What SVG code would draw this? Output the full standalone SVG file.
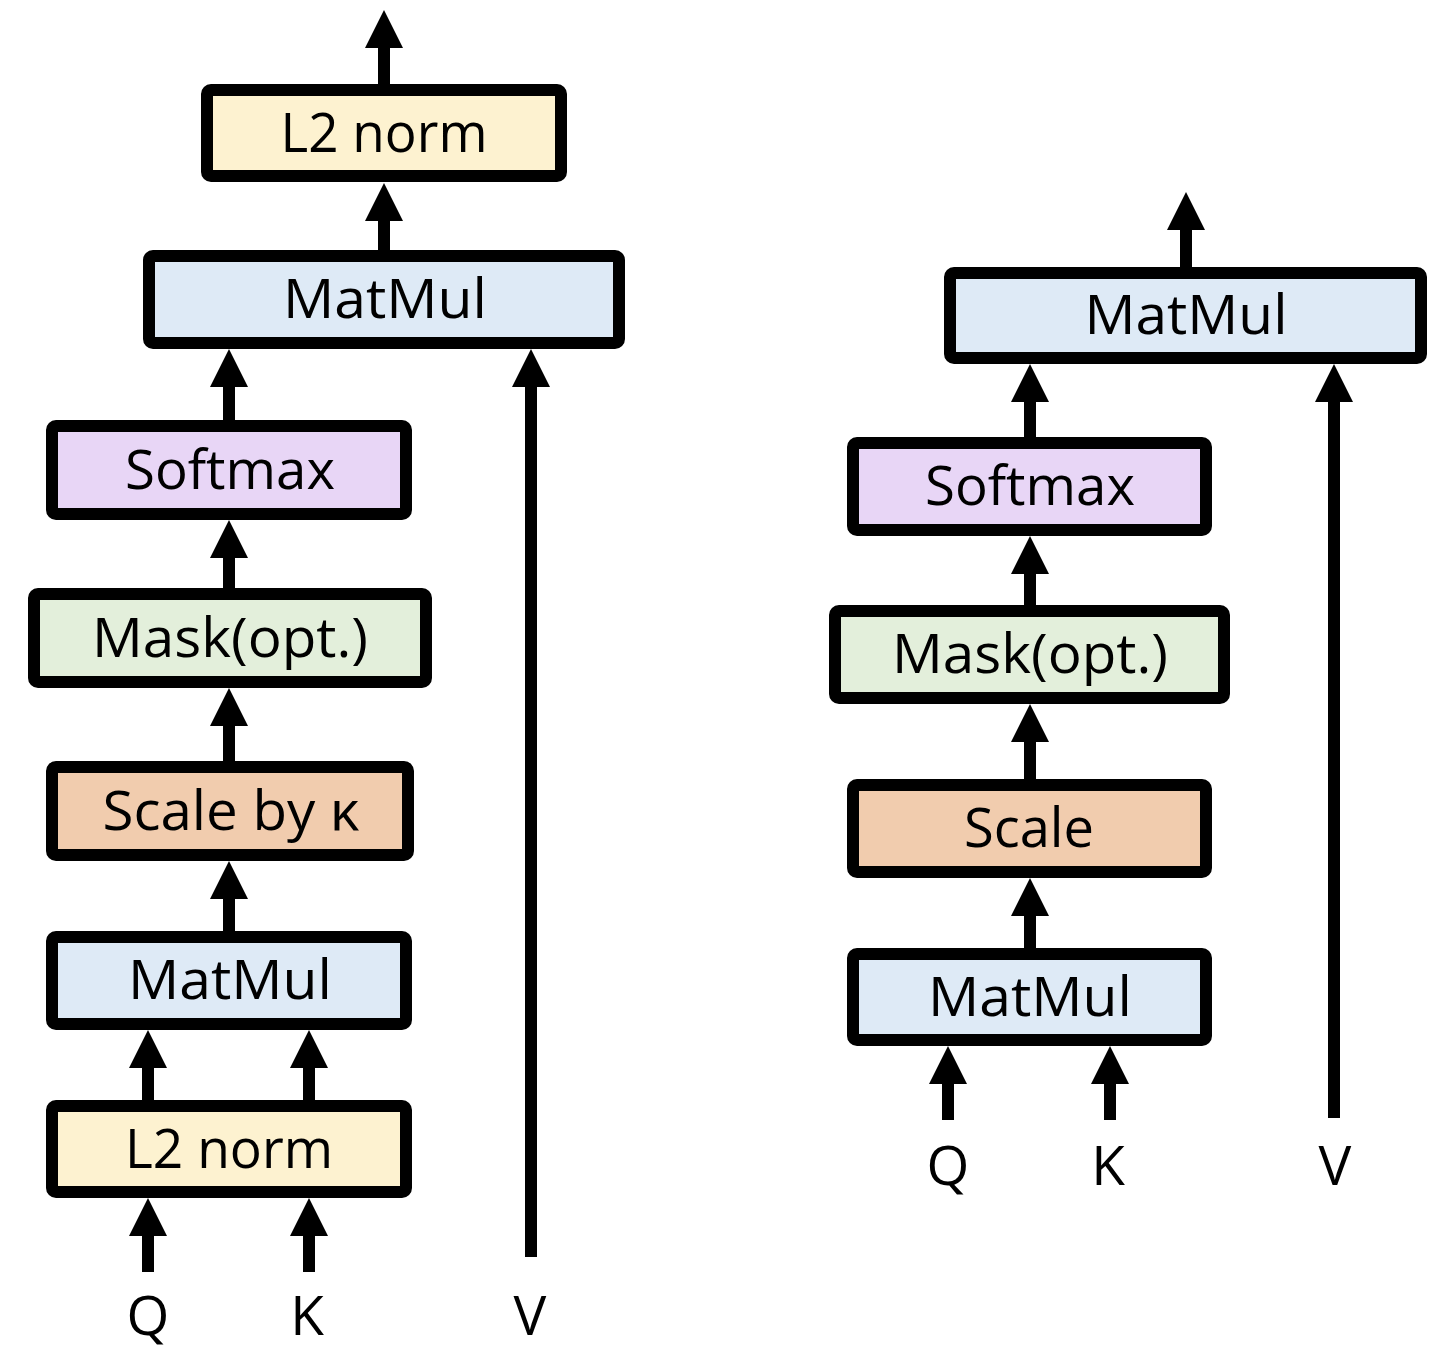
<svg xmlns="http://www.w3.org/2000/svg" width="1454" height="1370" viewBox="0 0 1454 1370">
<style>
.box{stroke:#000;stroke-width:12;stroke-linejoin:round}
.lbl{font-family:"Open Sans","Noto Sans","DejaVu Sans",sans-serif;font-size:55px;fill:#000;text-anchor:middle}
.c{stroke:#000;stroke-width:12;fill:none}
.yel{fill:#FDF2D0}.blu{fill:#DEEAF6}.pur{fill:#E8D6F6}.grn{fill:#E3EFDB}.org{fill:#F1CCAE}
</style>
<defs>
<marker id="ah" markerUnits="userSpaceOnUse" markerWidth="38" markerHeight="38" refX="0" refY="19" orient="auto" viewBox="0 0 38 38">
<path d="M0,0 L38,19 L0,38 z" fill="#000"/>
</marker>
</defs>
<rect width="1454" height="1370" fill="#fff"/>
<g id="connectors">
<line class="c" x1="384" y1="86" x2="384" y2="48" marker-end="url(#ah)"/>
<line class="c" x1="384" y1="252" x2="384" y2="221" marker-end="url(#ah)"/>
<line class="c" x1="229" y1="422" x2="229" y2="387" marker-end="url(#ah)"/>
<line class="c" x1="531" y1="1257" x2="531" y2="387" marker-end="url(#ah)"/>
<line class="c" x1="229" y1="590" x2="229" y2="558" marker-end="url(#ah)"/>
<line class="c" x1="229" y1="763" x2="229" y2="726" marker-end="url(#ah)"/>
<line class="c" x1="229" y1="933" x2="229" y2="899" marker-end="url(#ah)"/>
<line class="c" x1="148" y1="1102" x2="148" y2="1068" marker-end="url(#ah)"/>
<line class="c" x1="309" y1="1102" x2="309" y2="1068" marker-end="url(#ah)"/>
<line class="c" x1="148" y1="1272" x2="148" y2="1236" marker-end="url(#ah)"/>
<line class="c" x1="309" y1="1272" x2="309" y2="1236" marker-end="url(#ah)"/>
<line class="c" x1="1186" y1="269" x2="1186" y2="230" marker-end="url(#ah)"/>
<line class="c" x1="1334" y1="1118" x2="1334" y2="402" marker-end="url(#ah)"/>
<line class="c" x1="1030" y1="439" x2="1030" y2="402" marker-end="url(#ah)"/>
<line class="c" x1="1030" y1="607" x2="1030" y2="574" marker-end="url(#ah)"/>
<line class="c" x1="1030" y1="781" x2="1030" y2="742" marker-end="url(#ah)"/>
<line class="c" x1="1030" y1="950" x2="1030" y2="916" marker-end="url(#ah)"/>
<line class="c" x1="948" y1="1120" x2="948" y2="1084" marker-end="url(#ah)"/>
<line class="c" x1="1110" y1="1120" x2="1110" y2="1084" marker-end="url(#ah)"/>
</g>
<g id="l-l2norm-top"><rect class="box yel" x="207" y="90" width="354" height="86" rx="4"/><text class="lbl" x="384" y="152" textLength="207" lengthAdjust="spacingAndGlyphs">L2 norm</text></g>
<g id="l-matmul-top"><rect class="box blu" x="149" y="256" width="470" height="87" rx="4"/><text class="lbl" x="385" y="318" textLength="204" lengthAdjust="spacingAndGlyphs">MatMul</text></g>
<g id="l-softmax"><rect class="box pur" x="52" y="426" width="354" height="88" rx="4"/><text class="lbl" x="230" y="489" textLength="210" lengthAdjust="spacingAndGlyphs">Softmax</text></g>
<g id="l-mask"><rect class="box grn" x="34" y="594" width="392" height="88" rx="4"/><text class="lbl" x="230" y="657" textLength="276" lengthAdjust="spacingAndGlyphs">Mask(opt.)</text></g>
<g id="l-scale"><rect class="box org" x="52" y="767" width="356" height="88" rx="4"/><text class="lbl" x="231" y="830" textLength="257" lengthAdjust="spacingAndGlyphs">Scale by κ</text></g>
<g id="l-matmul-bot"><rect class="box blu" x="52" y="937" width="354" height="87" rx="4"/><text class="lbl" x="230" y="999" textLength="204" lengthAdjust="spacingAndGlyphs">MatMul</text></g>
<g id="l-l2norm-bot"><rect class="box yel" x="52" y="1106" width="354" height="86" rx="4"/><text class="lbl" x="229" y="1168" textLength="208" lengthAdjust="spacingAndGlyphs">L2 norm</text></g>
<g id="l-q"><text class="lbl" x="148" y="1335">Q</text></g>
<g id="l-k"><text class="lbl" x="307" y="1335">K</text></g>
<g id="l-v"><text class="lbl" x="530" y="1335">V</text></g>
<g id="r-matmul-top"><rect class="box blu" x="950" y="273" width="471" height="85" rx="4"/><text class="lbl" x="1186" y="334" textLength="203" lengthAdjust="spacingAndGlyphs">MatMul</text></g>
<g id="r-softmax"><rect class="box pur" x="853" y="443" width="353" height="87" rx="4"/><text class="lbl" x="1030" y="505" textLength="210" lengthAdjust="spacingAndGlyphs">Softmax</text></g>
<g id="r-mask"><rect class="box grn" x="835" y="611" width="389" height="87" rx="4"/><text class="lbl" x="1030" y="673" textLength="276" lengthAdjust="spacingAndGlyphs">Mask(opt.)</text></g>
<g id="r-scale"><rect class="box org" x="853" y="785" width="353" height="87" rx="4"/><text class="lbl" x="1029" y="847" textLength="130" lengthAdjust="spacingAndGlyphs">Scale</text></g>
<g id="r-matmul-bot"><rect class="box blu" x="853" y="954" width="353" height="86" rx="4"/><text class="lbl" x="1030" y="1016" textLength="204" lengthAdjust="spacingAndGlyphs">MatMul</text></g>
<g id="r-q"><text class="lbl" x="948" y="1185">Q</text></g>
<g id="r-k"><text class="lbl" x="1108" y="1185">K</text></g>
<g id="r-v"><text class="lbl" x="1335" y="1185">V</text></g>
</svg>
